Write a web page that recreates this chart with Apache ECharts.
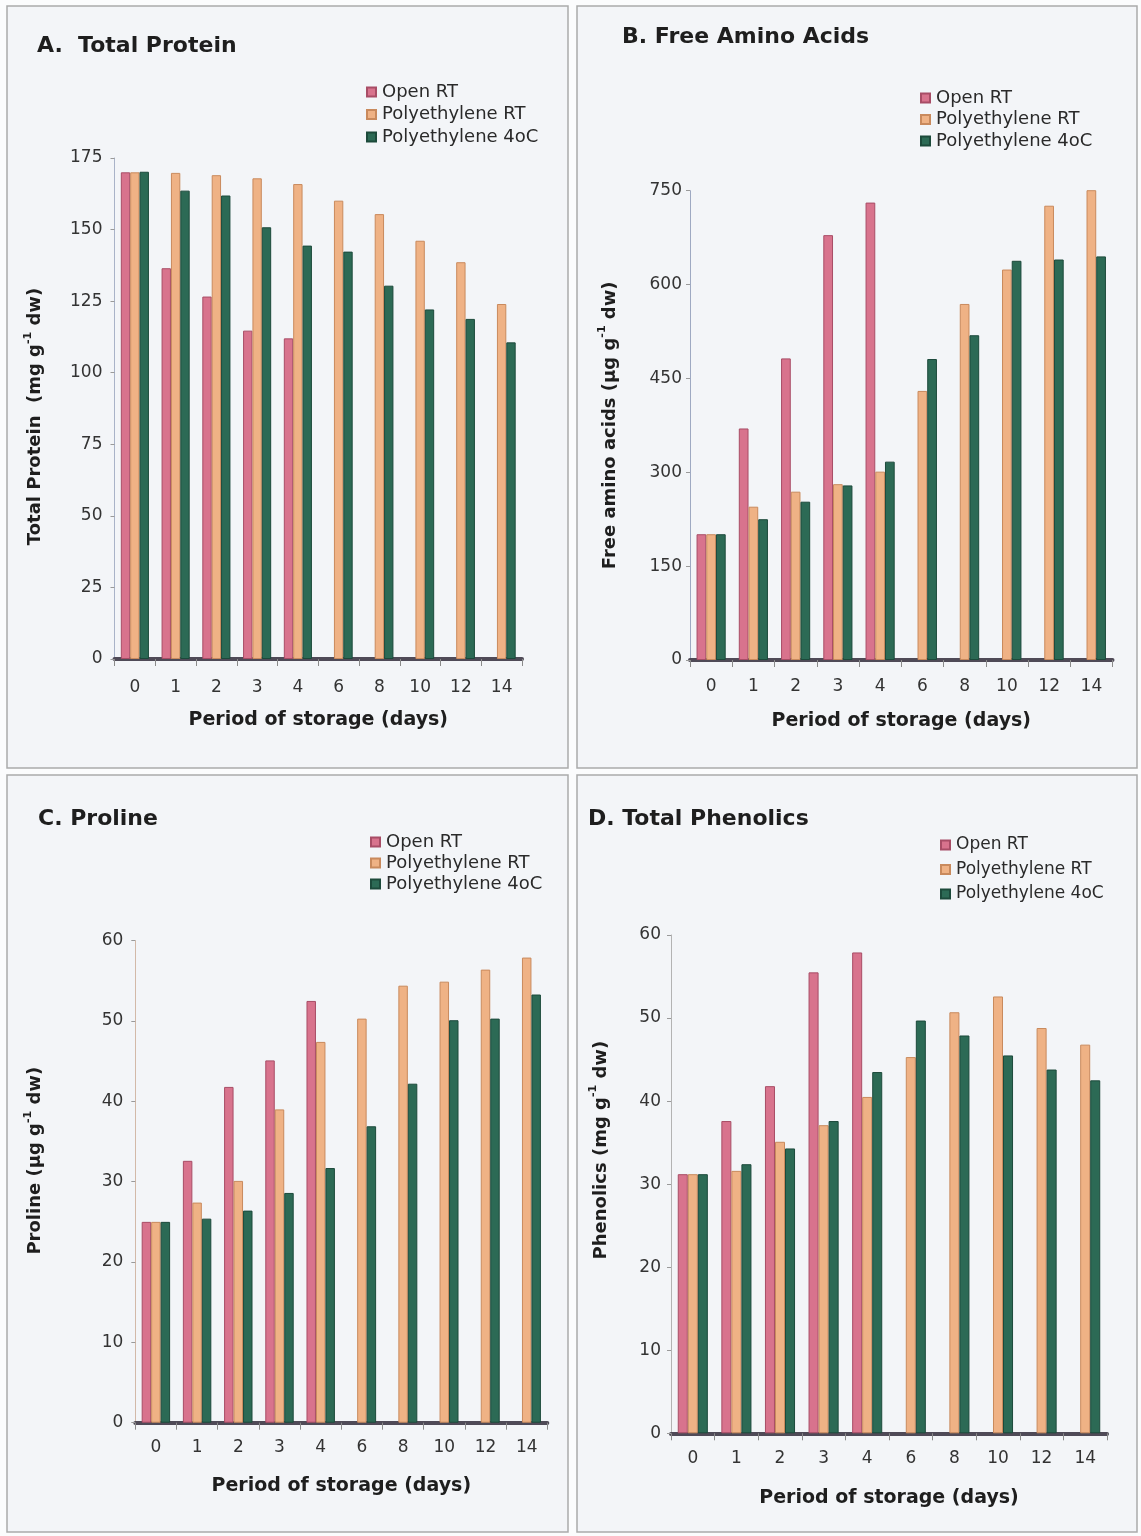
<!DOCTYPE html>
<html>
<head>
<meta charset="utf-8">
<title>Storage changes: protein, amino acids, proline, phenolics</title>
<script src="https://cdn.jsdelivr.net/npm/echarts@6/dist/echarts.min.js"></script>
<style>
  html, body { margin: 0; padding: 0; background: #fbfcfd; }
  #chart { width: 1141px; height: 1536px; }
</style>
</head>
<body>
<div id="chart"></div>
<script>
// Period of storage (days)
const days = ['0', '1', '2', '3', '4', '6', '8', '10', '12', '14'];
const treatments = ['Open RT', 'Polyethylene RT', 'Polyethylene 4oC'];

// A. Total protein (mg g-1 dw)
const proteinOpenRT = [170, 136.5, 126.6, 114.7, 112.0, null, null, null, null, null];
const proteinPolyRT = [170, 169.8, 169.0, 167.9, 165.9, 160.1, 155.4, 146.1, 138.6, 124.0];
const proteinPoly4 = [170.2, 163.6, 161.9, 150.8, 144.4, 142.3, 130.4, 122.1, 118.8, 110.6];

// B. Free amino acids (µg g-1 dw)
const aminoOpenRT = [201, 370, 482, 679, 731, null, null, null, null, null];
const aminoPolyRT = [201, 245, 269, 281, 301, 430, 569, 624, 726, 751];
const aminoPoly4 = [201, 225, 253, 279, 317, 481, 519, 638, 640, 645];

// C. Proline (µg g-1 dw)
const prolineOpenRT = [25.0, 32.6, 41.8, 45.1, 52.5, null, null, null, null, null];
const prolinePolyRT = [25.0, 27.4, 30.1, 39.0, 47.4, 50.3, 54.4, 54.9, 56.4, 57.9];
const prolinePoly4 = [25.0, 25.4, 26.4, 28.6, 31.7, 36.9, 42.2, 50.1, 50.3, 53.3];

// D. Total phenolics (mg g-1 dw)
const phenolOpenRT = [31.2, 37.6, 41.8, 55.5, 57.9, null, null, null, null, null];
const phenolPolyRT = [31.2, 31.6, 35.1, 37.1, 40.5, 45.3, 50.7, 52.6, 48.8, 46.8];
const phenolPoly4 = [31.2, 32.4, 34.3, 37.6, 43.5, 49.7, 47.9, 45.5, 43.8, 42.5];

// y-axis tick settings per panel
const yMax = [175, 750, 60, 60];
const yStep = [25, 150, 10, 10];

const FONT = '"DejaVu Sans", "Liberation Sans", Arial, sans-serif';
const colors = ['#d8738d', '#efb285', '#2c6a55'];
const edges = ['#a84d66', '#c98a5d', '#1c4a3b'];

const panels = [
  { title: 'A.  Total Protein', yName: ['Total Protein  (mg g', '-1', ' dw)'],
    data: [proteinOpenRT, proteinPolyRT, proteinPoly4],
    grid: { left: 114.5, top: 158, width: 407.5, height: 501 },
    box: { x: 7, y: 6, w: 561, h: 762 },
    titlePos: { left: 37, top: 35 },
    legend: { left: 366, top: 82, gap: 2.5, size: 18 },
    yGap: 66, yShift: [0, 16, 0, 0], yLabelMargin: 12, yLine: '#a9b3c8',
    xLabelMargin: 20, xNameGap: 52 },
  { title: 'B. Free Amino Acids', yName: ['Free amino acids (µg g', '-1', ' dw)'],
    data: [aminoOpenRT, aminoPolyRT, aminoPoly4],
    grid: { left: 690, top: 190.7, width: 422.5, height: 469.3 },
    box: { x: 577, y: 6, w: 560, h: 762 },
    titlePos: { left: 622, top: 26 },
    legend: { left: 920, top: 88, gap: 1.5, size: 18 },
    yGap: 67, yShift: [0, 0, 0, 0], yLabelMargin: 8, yLine: '#9ea9c2',
    xLabelMargin: 18, xNameGap: 52 },
  { title: 'C. Proline', yName: ['Proline (µg g', '-1', ' dw)'],
    data: [prolineOpenRT, prolinePolyRT, prolinePoly4],
    grid: { left: 135.3, top: 940.7, width: 412, height: 482 },
    box: { x: 7, y: 775, w: 561, h: 757 },
    titlePos: { left: 38, top: 808 },
    legend: { left: 370, top: 832, gap: 1, size: 18 },
    yGap: 87, yShift: [0, 0, 0, 42], yLabelMargin: 12, yLine: '#d2b9a8',
    xLabelMargin: 16, xNameGap: 54 },
  { title: 'D. Total Phenolics', yName: ['Phenolics (mg g', '-1', ' dw)'],
    data: [phenolOpenRT, phenolPolyRT, phenolPoly4],
    grid: { left: 671, top: 935, width: 436, height: 498.3 },
    box: { x: 577, y: 775, w: 560, h: 757 },
    titlePos: { left: 588, top: 808 },
    legend: { left: 940, top: 835, gap: 4.5, size: 17 },
    yGap: 57, yShift: [0, 0, 0, 68], yLabelMargin: 10, yLine: '#b3b3b3',
    xLabelMargin: 17, xNameGap: 55 }
];

const option = {
  backgroundColor: '#fbfcfd',
  animation: false,
  textStyle: { fontFamily: FONT },
  title: [],
  legend: [],
  grid: [],
  xAxis: [],
  yAxis: [],
  series: [],
  graphic: []
};

panels.forEach((p, i) => {
  option.graphic.push({
    type: 'rect', silent: true, z: -100,
    shape: { x: p.box.x, y: p.box.y, width: p.box.w, height: p.box.h },
    style: { fill: '#f3f5f8', stroke: '#ababab', lineWidth: 1.5 }
  });

  option.title.push({
    text: p.title, left: p.titlePos.left, top: p.titlePos.top, padding: 0,
    textStyle: { fontFamily: FONT, fontSize: 22, fontWeight: 'bold', color: '#1e1e1e' }
  });

  option.legend.push({
    data: treatments, orient: 'vertical', left: p.legend.left, top: p.legend.top,
    padding: 0, itemGap: p.legend.gap, itemWidth: 9, itemHeight: 9, icon: 'rect',
    selectedMode: false,
    textStyle: { fontFamily: FONT, fontSize: p.legend.size, lineHeight: 20, color: '#2a2a2a', padding: [0, 0, 0, 1] }
  });

  option.grid.push(Object.assign({ containLabel: false }, p.grid));

  option.xAxis.push({
    type: 'category', gridIndex: i, data: days, boundaryGap: true,
    name: 'Period of storage (days)', nameLocation: 'middle', nameGap: p.xNameGap,
    nameTextStyle: { fontFamily: FONT, fontSize: 19, fontWeight: 'bold', color: '#1e1e1e', verticalAlign: 'top' },
    axisLine: { show: true, lineStyle: { color: '#4f4a57', width: 4 } },
    axisTick: { show: true, alignWithLabel: false, length: 7, lineStyle: { color: '#8a8a8a', width: 1 } },
    axisLabel: { fontFamily: FONT, fontSize: 17, color: '#333', margin: p.xLabelMargin },
    splitLine: { show: false }
  });

  option.yAxis.push({
    type: 'value', gridIndex: i, min: 0, max: yMax[i], interval: yStep[i],
    name: '{b|' + p.yName[0] + '}{s|' + p.yName[1] + '}{b|' + p.yName[2] + '}',
    nameLocation: 'middle', nameGap: p.yGap, nameRotate: 90,
    nameTextStyle: {
      padding: p.yShift,
      rich: {
        b: { fontFamily: FONT, fontSize: 18, fontWeight: 'bold', color: '#1e1e1e', lineHeight: 26 },
        s: { fontFamily: FONT, fontSize: 11, fontWeight: 'bold', color: '#1e1e1e', lineHeight: 12, verticalAlign: 'top' }
      }
    },
    axisLine: { show: true, lineStyle: { color: p.yLine, width: 1 } },
    axisTick: { show: true, length: 4, lineStyle: { color: '#9a9a9a' } },
    axisLabel: { fontFamily: FONT, fontSize: 17, color: '#333', margin: p.yLabelMargin },
    splitLine: { show: false }
  });

  p.data.forEach((vals, k) => {
    option.series.push({
      type: 'bar', name: treatments[k], xAxisIndex: i, yAxisIndex: i,
      data: vals, barWidth: '23%', barGap: '0%',
      itemStyle: { color: colors[k], borderColor: edges[k], borderWidth: 1 }
    });
  });
});

const chart = echarts.init(document.getElementById('chart'), null, { renderer: 'canvas' });
chart.setOption(option);
</script>
</body>
</html>
